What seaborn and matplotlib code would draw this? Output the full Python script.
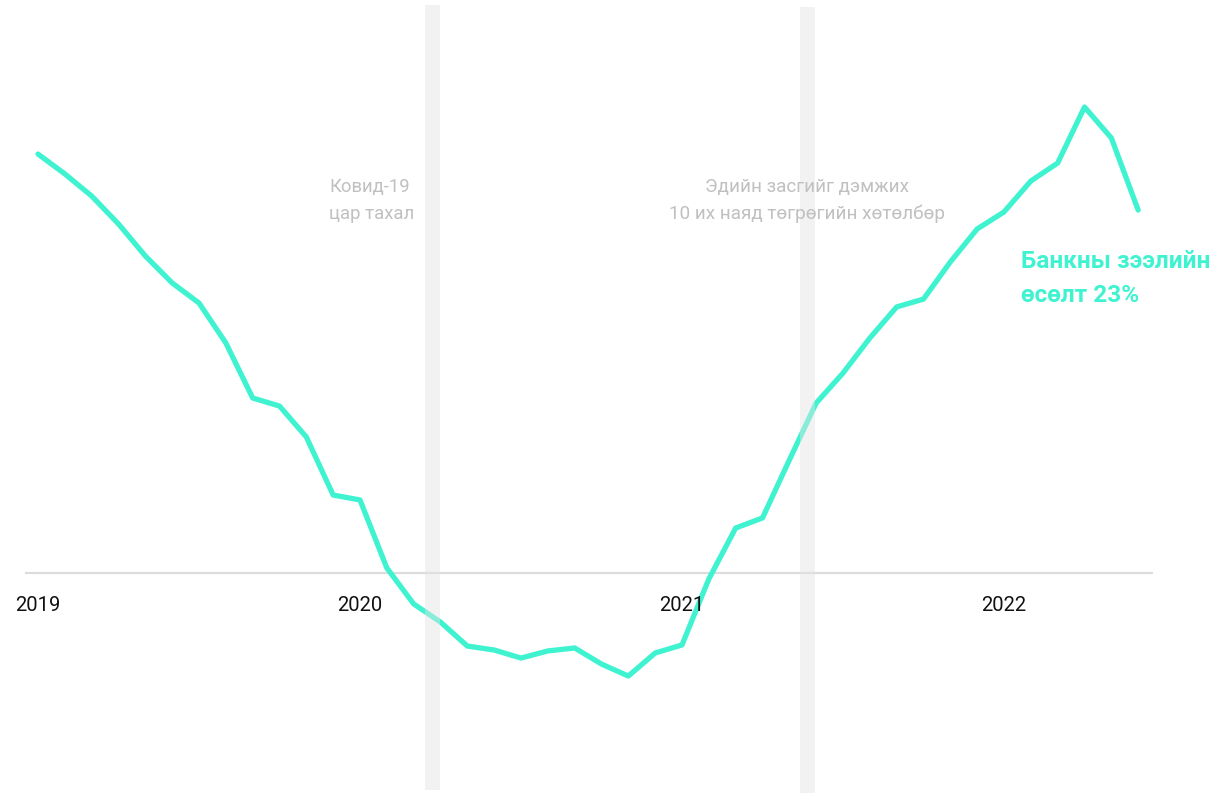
import matplotlib
matplotlib.use("Agg")
import matplotlib.pyplot as plt
import matplotlib.transforms as mtransforms
import numpy as np
import pandas as pd
import seaborn as sns

# ---- data (monthly bank-loan growth, %, Jan 2019 .. Jun 2022) ----
months = pd.date_range("2019-01-01", "2022-06-01", freq="MS")
growth = [26.55, 25.29, 23.89, 22.12, 20.09, 18.38, 17.11, 14.58, 11.09, 10.58, 8.62, 4.94,
          4.63, 0.32, -1.96, -3.11, -4.63, -4.88, -5.39, -4.94, -4.75, -5.77, -6.53, -5.07,
          -4.56, -0.38, 2.85, 3.49, 7.16, 10.77, 12.67, 14.89, 16.86, 17.36, 19.71, 21.80,
          22.88, 24.84, 25.98, 29.53, 27.57, 23.00]
year_labels = ["2019", "2020", "2021", "2022"]
covid_text = ["Ковид-19", "цар тахал"]
program_text = ["Эдийн засгийг дэмжих", "10 их наяд төгрөгийн хөтөлбөр"]
end_text = ["Банкны зээлийн", "өсөлт 23%"]

sns.set_style("white")
plt.rcParams["font.family"] = ["Roboto", "DejaVu Sans"]

W, H = 1217, 795
PX_YEAR = 322.0      # pixels per year
X0 = 38.0            # pixel of Jan 2019
Y0 = 573.0           # pixel of zero line
PX_PCT = 15.78       # pixels per percentage point

def tx(px):
    return 2019 + (px - X0) / PX_YEAR

def yfrac(py):
    return 1 - py / H

t = [2019 + (d.year - 2019) + (d.month - 1) / 12 for d in months]
df = pd.DataFrame({"t": t, "growth": growth})

fig = plt.figure(figsize=(W / 100, H / 100), dpi=100)
ax = fig.add_axes([0, 0, 1, 1])
ax.set_xlim(tx(0), tx(W))
ax.set_ylim((Y0 - H) / PX_PCT, Y0 / PX_PCT)
ax.axis("off")

# zero line
ax.hlines(0, tx(25), tx(1153), color="#dcdcdc", lw=1.6, zorder=1)

line_color = "#3ff3d1"
sns.lineplot(data=df, x="t", y="growth", ax=ax, color=line_color, lw=3.8,
             solid_capstyle="round", solid_joinstyle="round", zorder=3)

# shaded event bands (drawn over the line)
ax.axvspan(tx(425), tx(440), ymin=yfrac(790), ymax=yfrac(5), color="#e4e4e4",
           alpha=0.45, lw=0, zorder=4)
ax.axvspan(tx(800), tx(815), ymin=yfrac(793), ymax=yfrac(7), color="#e4e4e4",
           alpha=0.45, lw=0, zorder=4)

trans = mtransforms.blended_transform_factory(ax.transData, ax.transAxes)
for i, lab in enumerate(year_labels):
    ax.text(2019 + i, yfrac(611), lab, transform=trans, ha="center", va="baseline",
            fontsize=14.5, color="#111111")

grey = "#c0c0c0"
ax.text(tx(329), yfrac(192), covid_text[0], transform=trans, ha="left", va="baseline",
        fontsize=13.3, color=grey, zorder=5)
ax.text(tx(329), yfrac(219), covid_text[1], transform=trans, ha="left", va="baseline",
        fontsize=13.3, color=grey, zorder=5)
ax.text(tx(807), yfrac(192), program_text[0], transform=trans, ha="center", va="baseline",
        fontsize=13.6, color=grey, zorder=5)
ax.text(tx(807), yfrac(219), program_text[1], transform=trans, ha="center", va="baseline",
        fontsize=13.6, color=grey, zorder=5)

ax.text(tx(1021), yfrac(268), end_text[0], transform=trans, ha="left", va="baseline",
        fontsize=17.6, fontweight="bold", color=line_color)
ax.text(tx(1021), yfrac(302), end_text[1], transform=trans, ha="left", va="baseline",
        fontsize=17.6, fontweight="bold", color=line_color)

if ax.get_legend() is not None:
    ax.get_legend().remove()

fig.savefig("out.png", dpi=100, facecolor="white")
